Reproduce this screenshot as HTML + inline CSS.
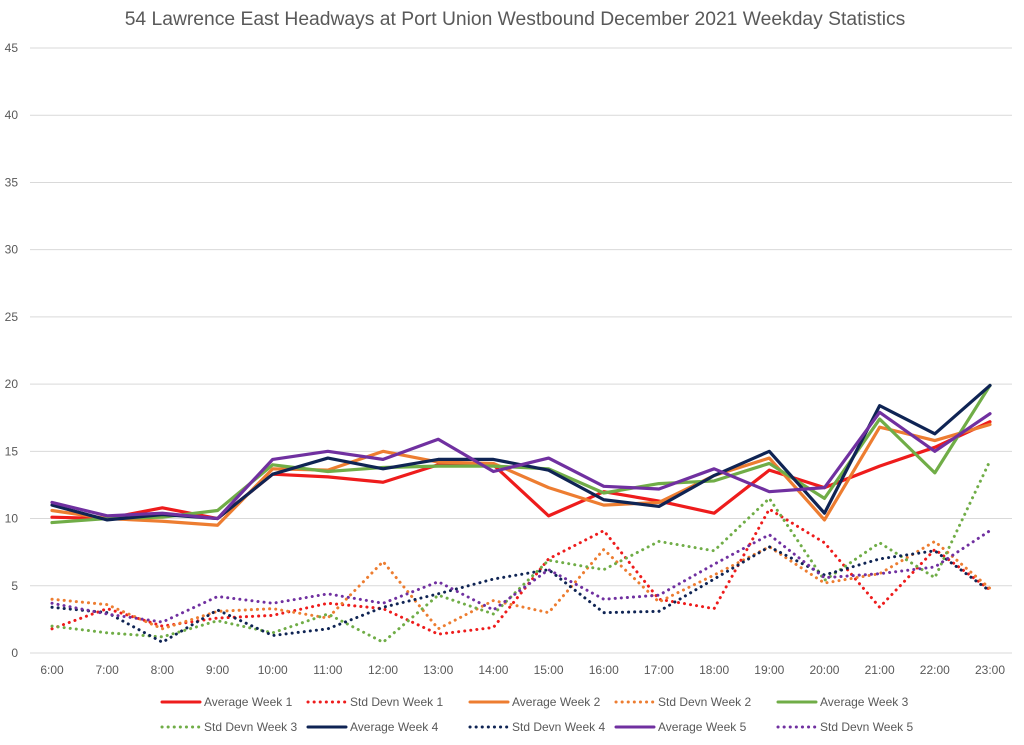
<!DOCTYPE html>
<html><head><meta charset="utf-8"><style>
body{margin:0;background:#fff;font-family:"Liberation Sans",sans-serif;}
svg text{font-family:"Liberation Sans",sans-serif;fill:#595959;}
</style></head><body>
<svg id="chart" width="1024" height="740">
<text x="515" y="25" text-anchor="middle" font-size="19.3">54 Lawrence East Headways at Port Union Westbound December 2021 Weekday Statistics</text>
<g id="grid"></g><g id="series"></g><g id="legend"></g>
</svg>
<script>
const categories=["6:00","7:00","8:00","9:00","10:00","11:00","12:00","13:00","14:00","15:00","16:00","17:00","18:00","19:00","20:00","21:00","22:00","23:00"];
const yTicks=[0,5,10,15,20,25,30,35,40,45];
const avgW1=[10.1,10.0,10.8,10.0,13.3,13.1,12.7,14.0,14.0,10.2,12.0,11.3,10.4,13.6,12.3,13.9,15.3,17.2];
const sdW1=[1.8,3.3,2.0,2.6,2.8,3.7,3.3,1.4,1.9,7.0,9.1,4.0,3.3,10.7,8.2,3.4,7.7,4.7];
const avgW2=[10.6,10.0,9.8,9.5,13.7,13.6,15.0,14.2,14.1,12.3,11.0,11.2,13.2,14.5,9.9,16.8,15.8,17.0];
const sdW2=[4.0,3.6,1.8,3.1,3.3,2.6,6.8,1.8,3.9,3.0,7.7,3.8,5.8,7.9,5.2,5.9,8.3,4.8];
const avgW3=[9.7,10.0,10.1,10.6,14.0,13.5,13.8,13.9,13.9,13.7,11.9,12.6,12.8,14.1,11.5,17.4,13.4,19.9];
const sdW3=[2.0,1.5,1.2,2.4,1.5,2.9,0.8,4.3,2.9,6.9,6.2,8.3,7.6,11.5,5.4,8.2,5.6,14.3];
const avgW4=[11.0,9.9,10.3,10.0,13.3,14.5,13.7,14.4,14.4,13.6,11.4,10.9,13.2,15.0,10.4,18.4,16.3,19.9];
const sdW4=[3.4,3.0,0.8,3.2,1.3,1.8,3.4,4.4,5.5,6.2,3.0,3.1,5.5,7.9,5.8,7.0,7.6,4.6];
const avgW5=[11.2,10.2,10.4,10.0,14.4,15.0,14.4,15.9,13.5,14.5,12.4,12.2,13.7,12.0,12.3,17.9,15.0,17.8];
const sdW5=[3.7,2.9,2.3,4.2,3.7,4.4,3.7,5.3,3.2,6.2,4.0,4.3,6.6,8.8,5.6,5.9,6.4,9.1];
const seriesNames=["Average Week 1","Std Devn Week 1","Average Week 2","Std Devn Week 2","Average Week 3","Std Devn Week 3","Average Week 4","Std Devn Week 4","Average Week 5","Std Devn Week 5"];
const NS="http://www.w3.org/2000/svg";
const x0=52,x1=990,y0=653,yTop=48,ymax=45;
const xs=i=>x0+i*(x1-x0)/(categories.length-1);
const ys=v=>y0-v*(y0-yTop)/ymax;
function mk(t,a,p){const e=document.createElementNS(NS,t);for(const k in a)e.setAttribute(k,a[k]);p.appendChild(e);return e;}
const grid=document.getElementById('grid');
yTicks.forEach(v=>{
 const l=mk('line',{x1:30,x2:1012,y1:ys(v),y2:ys(v),stroke:'#d9d9d9','stroke-width':1},grid);
 
 
 const t=mk('text',{x:18,y:ys(v)+4,'text-anchor':'end','font-size':12},grid);t.textContent=v;
 
 
});
categories.forEach((c,i)=>{
 const t=mk('text',{x:xs(i),y:674,'text-anchor':'middle','font-size':12},grid);t.textContent=c;
 
 
});
const data=[avgW1,sdW1,avgW2,sdW2,avgW3,sdW3,avgW4,sdW4,avgW5,sdW5];
const colors=["#ee1c1c","#ee1c1c","#ed7d31","#ed7d31","#70ad47","#70ad47","#0f2454","#0f2454","#7030a0","#7030a0"];
const sg=document.getElementById('series');
data.forEach((d,k)=>{
 const dotted=k%2==1;
 const p=mk('polyline',{points:d.map((v,i)=>xs(i)+','+ys(v)).join(' '),fill:'none',stroke:colors[k],'stroke-width':dotted?3:3.2,'stroke-linejoin':'round','stroke-linecap':'round','stroke-dasharray':dotted?'0.1 6':'none'},sg);
 
 
});
const lg=document.getElementById('legend');
const lx=[162,308,470,616,778];
seriesNames.forEach((n,k)=>{
 const row=Math.floor(k/5),col=k%5,dotted=k%2==1;
 const y=row?727:702,x=lx[col];
 const g=mk('g',{},lg);
 
 
 mk('line',{x1:x,x2:x+38,y1:y,y2:y,stroke:colors[k],'stroke-width':3,'stroke-linecap':'round','stroke-dasharray':dotted?'0.1 6':'none'},g);
 const t=mk('text',{x:x+42,y:y+4,'font-size':12},g);t.textContent=n;
});
</script>
</body></html>
